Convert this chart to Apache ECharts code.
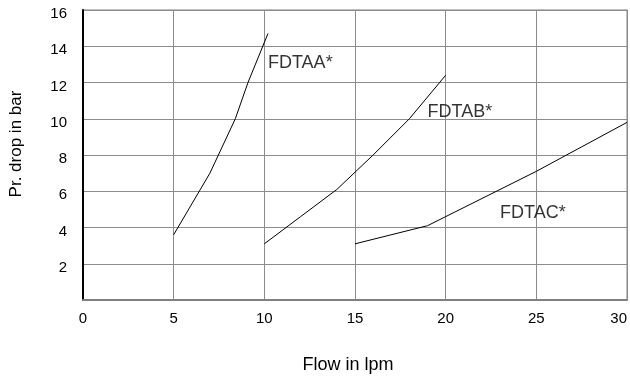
<!DOCTYPE html>
<html>
<head>
<meta charset="utf-8">
<script src="https://cdn.jsdelivr.net/npm/echarts@6/dist/echarts.min.js"></script>
<style>
  html, body { margin: 0; padding: 0; background: #fff; }
  #main { width: 630px; height: 380px; }
</style>
</head>
<body>
<div id="main"></div>
<script>
// data: [flow lpm, pressure drop bar]
var fdtaa = [[5, 3.6], [7, 7], [8.4, 10], [9.1, 12], [10.2, 14.7]];
var fdtab = [[10, 3.1], [12, 4.6], [14, 6.1], [16, 8], [18, 10], [20, 12.4]];
var fdtac = [[15, 3.1], [19, 4.1], [25, 7.1], [30, 9.8]];
// where the curve names sit
var curveNames = ['FDTAA*', 'FDTAB*', 'FDTAC*'];
var namePos = [[10.2, 13.05], [19.0, 10.35], [23.0, 4.8]];

var font = '"Liberation Sans", Arial, sans-serif';

var myChart = echarts.init(document.getElementById('main'));

var lineStyle = { color: '#000', width: 1 };

var option = {
    animation: false,
    grid: {
        left: 83,
        right: 3,
        top: 10,
        bottom: 80,
        outerBoundsMode: 'none',
        containLabel: false,
        show: true,
        borderColor: '#aaa',
        borderWidth: 1.5
    },
    xAxis: {
        type: 'value',
        min: 0,
        max: 30,
        interval: 5,
        name: 'Flow in lpm',
        nameLocation: 'middle',
        nameGap: 56,
        nameTextStyle: { color: '#000', fontSize: 18, fontFamily: font, padding: [0, 14, 0, 0] },
        axisLine: { lineStyle: { color: '#808080', width: 2 } },
        axisTick: { show: false },
        axisLabel: { color: '#000', fontSize: 15, fontFamily: font, margin: 11, alignMaxLabel: 'right' },
        splitLine: { lineStyle: { color: '#8c8c8c', width: 1 } }
    },
    yAxis: {
        type: 'value',
        min: 0,
        max: 16,
        interval: 2,
        name: 'Pr. drop in bar',
        nameLocation: 'middle',
        nameGap: 58,
        nameTextStyle: { color: '#000', fontSize: 17, fontFamily: font, padding: [0, 0, 0, 22] },
        axisLine: { show: true, lineStyle: { color: '#000', width: 2 } },
        axisTick: { show: false },
        axisLabel: {
            color: '#000', fontSize: 15, fontFamily: font, margin: 16,
            verticalAlign: 'top',
            lineHeight: 8,
            formatter: function (v) { return v === 0 ? '' : v; }
        },
        splitLine: { lineStyle: { color: '#8c8c8c', width: 1 } }
    },
    series: [
        { name: 'FDTAA', type: 'line', data: fdtaa, showSymbol: false, lineStyle: lineStyle },
        { name: 'FDTAB', type: 'line', data: fdtab, showSymbol: false, lineStyle: lineStyle },
        { name: 'FDTAC', type: 'line', data: fdtac, showSymbol: false, lineStyle: lineStyle },
        {
            name: 'names',
            type: 'scatter',
            symbolSize: 0,
            data: namePos.map(function (p, i) { return { value: p, name: curveNames[i] }; }),
            label: {
                show: true,
                position: 'right',
                distance: 0,
                formatter: '{b}',
                color: '#000',
                fontSize: 18,
                fontFamily: font
            }
        }
    ]
};

myChart.setOption(option);
</script>
</body>
</html>
